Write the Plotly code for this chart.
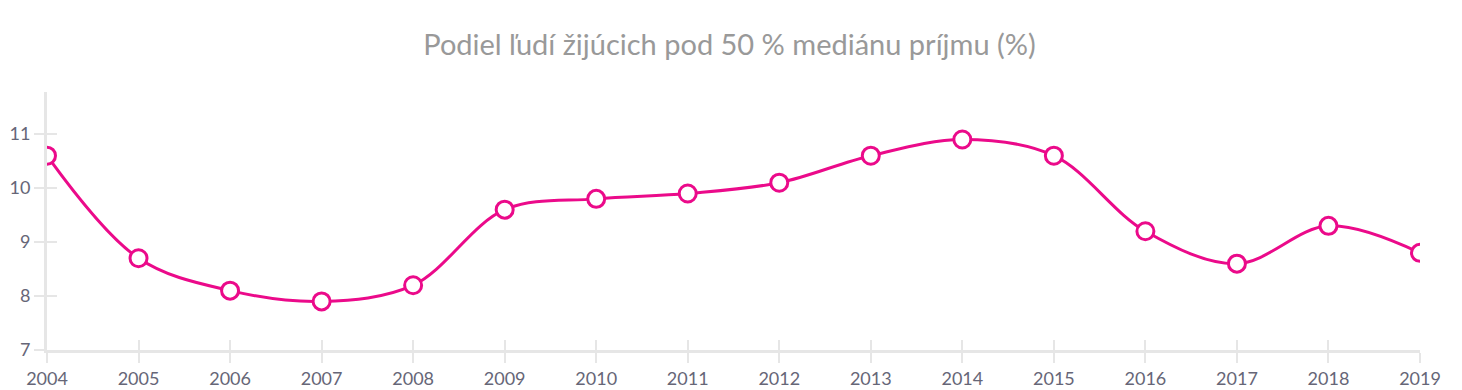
import plotly.graph_objects as go

years = [2004, 2005, 2006, 2007, 2008, 2009, 2010, 2011, 2012, 2013, 2014, 2015, 2016, 2017, 2018, 2019]
values = [10.6, 8.7, 8.1, 7.9, 8.2, 9.6, 9.8, 9.9, 10.1, 10.6, 10.9, 10.6, 9.2, 8.6, 9.3, 8.8]
y_ticks = [7, 8, 9, 10, 11]
title_text = "Podiel ľudí žijúcich pod 50 % mediánu príjmu (%)"

MAGENTA = "#eb0a8a"
AXIS = "#e6e6e6"
FONT = "Lato, 'Open Sans', sans-serif"
YRANGE = [7, 11.78]
XRANGE = [2004, 2019]

fig = go.Figure()
fig.add_trace(go.Scatter(
    x=years, y=values, mode="lines+markers",
    line=dict(color=MAGENTA, width=3, shape="spline", smoothing=1),
    marker=dict(size=17, color="white", line=dict(color=MAGENTA, width=3)),
    hoverinfo="x+y", showlegend=False,
))
# invisible trace to anchor the overlay axes (inner tick halves)
fig.add_trace(go.Scatter(x=[years[0]], y=[y_ticks[0]], xaxis="x2", yaxis="y2",
                         mode="markers", marker=dict(opacity=0), hoverinfo="skip",
                         showlegend=False))

fig.update_layout(
    width=1462, height=390,
    margin=dict(l=39, r=50, t=84, b=48, autoexpand=False),
    paper_bgcolor="white", plot_bgcolor="white",
    font=dict(family=FONT, color="#666677", size=18),
    title=dict(text=title_text, x=0.4935, xanchor="center", y=1 - 37 / 390, yanchor="middle",
               font=dict(family=FONT, size=29, color="#999999")),
    xaxis=dict(range=XRANGE, tickmode="array", tickvals=years, ticktext=[str(y) for y in years],
               showgrid=False, zeroline=False, showline=True, linecolor=AXIS, linewidth=3,
               ticks="outside", ticklen=10, tickwidth=2, tickcolor=AXIS,
               tickfont=dict(size=18, color="#666677"), fixedrange=True),
    yaxis=dict(range=YRANGE, tickmode="array", tickvals=y_ticks,
               showgrid=False, zeroline=False, showline=True, linecolor=AXIS, linewidth=3,
               ticks="outside", ticklen=10, tickwidth=2, tickcolor=AXIS,
               tickfont=dict(size=18, color="#666677"), fixedrange=True),
    xaxis2=dict(range=XRANGE, overlaying="x", tickmode="array", tickvals=years,
                showticklabels=False, showgrid=False, zeroline=False, showline=False,
                ticks="inside", ticklen=10, tickwidth=2, tickcolor=AXIS, anchor="y2"),
    yaxis2=dict(range=YRANGE, overlaying="y", tickmode="array", tickvals=y_ticks,
                showticklabels=False, showgrid=False, zeroline=False, showline=False,
                ticks="inside", ticklen=10, tickwidth=2, tickcolor=AXIS, anchor="x2"),
)

fig.write_html("out.html")
